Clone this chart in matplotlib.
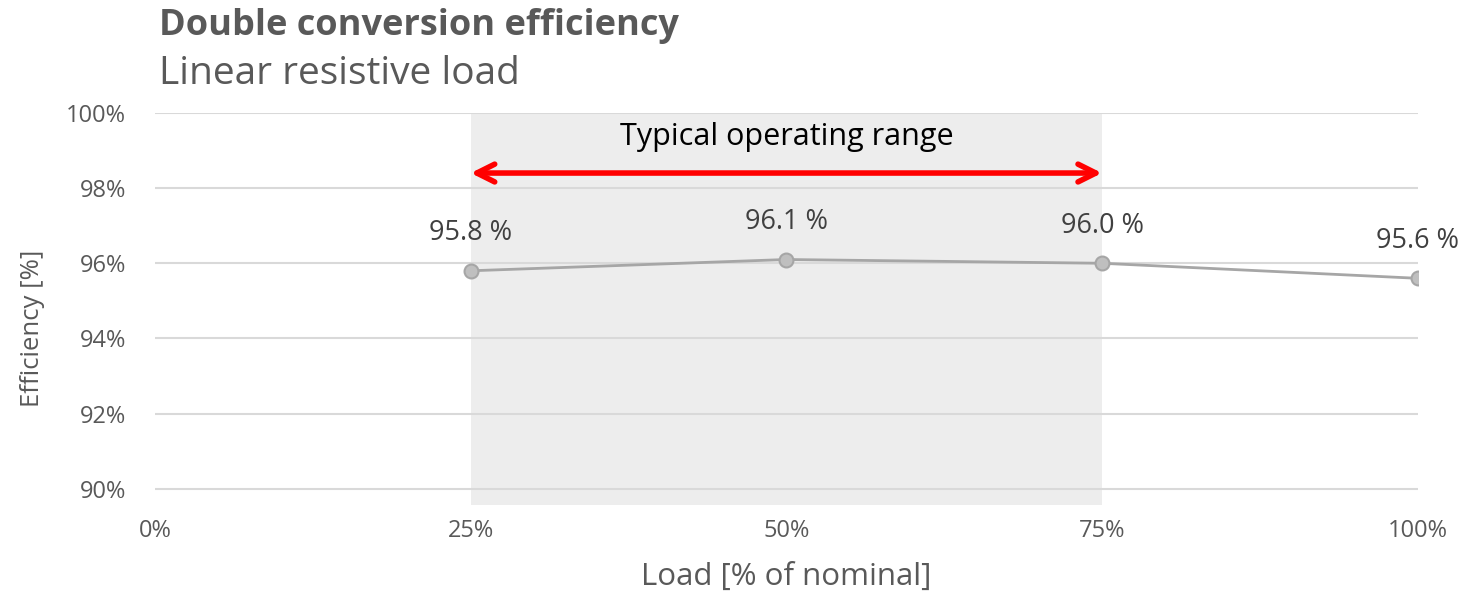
import matplotlib
matplotlib.use("Agg")
import matplotlib.pyplot as plt
from matplotlib.ticker import FuncFormatter

plt.rcParams['font.family'] = ['Open Sans', 'DejaVu Sans']

# data
load = [25, 50, 75, 100]
efficiency = [95.8, 96.1, 96.0, 95.6]
value_labels = ["95.8 %", "96.1 %", "96.0 %", "95.6 %"]
x_ticks = [0, 25, 50, 75, 100]
y_ticks = [90, 92, 94, 96, 98, 100]
range_lo, range_hi = 25, 75

fig = plt.figure(figsize=(14.63, 5.91), dpi=100)
ax = fig.add_axes([0.106, 0.1455, 0.863, 0.6635])

ymin, ymax = 89.57, 100
ax.set_xlim(0, 100)
ax.set_ylim(ymin, ymax)

# shaded typical range
ax.axvspan(range_lo, range_hi, color='#EDEDED', zorder=0, lw=0)

for y in y_ticks:
    ax.axhline(y, color='#D9D9D9', lw=1.5, zorder=1)

ax.plot(load, efficiency, color='#A6A6A6', lw=2, marker='o', ms=10,
        mfc='#BFBFBF', mec='#A6A6A6', mew=1.5, zorder=3)

for x, y, s in zip(load, efficiency, value_labels):
    ax.annotate(s, (x, y), xytext=(0, 27), textcoords='offset points',
                ha='center', va='center', fontsize=19.5, color='#404040',
                annotation_clip=False)

# arrow for operating range
ax.annotate('', xy=(range_lo, 98.4), xytext=(range_hi, 98.4),
            arrowprops=dict(arrowstyle='<->', color='#FF0000', lw=4,
                            mutation_scale=32, shrinkA=0, shrinkB=0))
ax.text(50, 99.35, 'Typical operating range', ha='center', va='center',
        fontsize=22, color='black')

ax.set_xticks(x_ticks)
ax.set_yticks(y_ticks)
ax.xaxis.set_major_formatter(FuncFormatter(lambda v, p: f"{v:.0f}%"))
ax.yaxis.set_major_formatter(FuncFormatter(lambda v, p: f"{v:.0f}%"))
ax.tick_params(length=0, labelsize=17, colors='#595959')
ax.tick_params(axis='x', pad=10)
ax.tick_params(axis='y', pad=21)
for s in ax.spines.values():
    s.set_visible(False)

ax.set_xlabel('Load [% of nominal]', fontsize=22.5, color='#595959', labelpad=14)
ax.set_ylabel('Efficiency [%]', fontsize=18.5, color='#595959')
ax.yaxis.set_label_coords(-0.087, 0.45)

fig.text(0.109, 0.956, 'Double conversion efficiency', fontsize=26,
         fontweight='bold', color='#595959', va='center')
fig.text(0.109, 0.874, 'Linear resistive load', fontsize=28,
         color='#595959', va='center')

fig.savefig('out.png', dpi=100)
